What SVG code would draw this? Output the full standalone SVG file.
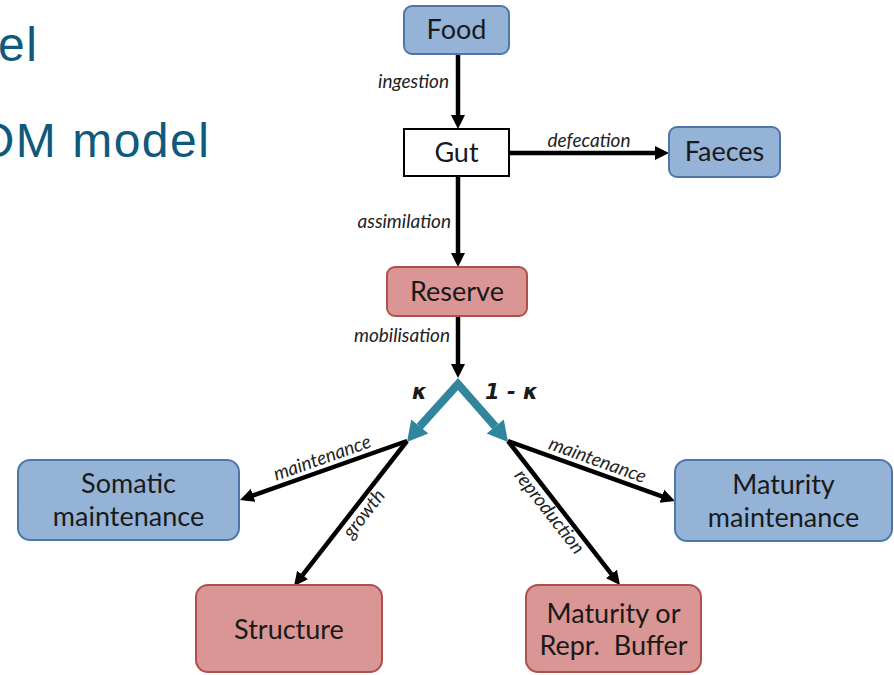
<svg xmlns="http://www.w3.org/2000/svg" width="894" height="675" viewBox="0 0 894 675">
<defs>
<style>
.title{font-family:"Liberation Sans",Arial,sans-serif;font-size:48px;fill:#0f5a7c;letter-spacing:1.5px}
.blue{fill:#95b3d7;stroke:#4f76ab;stroke-width:2}
.red{fill:#d99694;stroke:#b0504d;stroke-width:2}
.white{fill:#ffffff;stroke:#000000;stroke-width:2}
.nt{font-family:Lato,"Open Sans",sans-serif;font-size:27px;fill:#1a1a1a;text-anchor:middle}
.lb{font-family:Lato,"Open Sans",sans-serif;font-style:italic;font-size:19px;fill:#222222}
.k{font-family:"DejaVu Sans",sans-serif;font-style:italic;font-weight:bold;font-size:21px;fill:#1a1a1a}
.ar{fill:none;stroke:#000000;stroke-width:4.5}
.teal{fill:none;stroke:#31859c;stroke-width:8;stroke-linejoin:miter}
</style>
<marker id="ah" markerUnits="userSpaceOnUse" markerWidth="15" markerHeight="15" refX="9" refY="7" orient="auto">
<path d="M0,0 L14,7 L0,14 z" fill="#000000"/>
</marker>
</defs>
<text class="title" x="-2" y="61">el</text>
<text class="title" x="-23" y="157">OM model</text>

<g id="connectors">
<path class="teal" d="M419.7,426.5 L458,384 L495.3,426.5"/>
<polygon points="407,442 411.2,419.5 428.3,433.5" fill="#31859c"/>
<polygon points="508,442 503.8,419.5 486.7,433.5" fill="#31859c"/>
<line class="ar" x1="458" y1="54" x2="458" y2="124" marker-end="url(#ah)"/>
<line class="ar" x1="509" y1="153" x2="664" y2="153" marker-end="url(#ah)"/>
<line class="ar" x1="458" y1="176" x2="458" y2="262" marker-end="url(#ah)"/>
<line class="ar" x1="458" y1="316" x2="458" y2="373" marker-end="url(#ah)"/>
<line class="ar" x1="407" y1="441" x2="244.7" y2="498.3" marker-end="url(#ah)"/>
<line class="ar" x1="407" y1="441" x2="297.1" y2="582.1" marker-end="url(#ah)"/>
<line class="ar" x1="508" y1="441" x2="670.3" y2="499.3" marker-end="url(#ah)"/>
<line class="ar" x1="508" y1="441" x2="616.9" y2="581.1" marker-end="url(#ah)"/>
<text class="lb" x="449" y="88" text-anchor="end">ingestion</text>
<text class="lb" x="589" y="147" text-anchor="middle">defecation</text>
<text class="lb" x="451" y="228" text-anchor="end">assimilation</text>
<text class="lb" x="450" y="342" text-anchor="end">mobilisation</text>
<text class="k" x="412" y="399">κ</text>
<text class="k" x="485" y="399">1 - κ</text>
<text class="lb" text-anchor="middle" transform="translate(323.5,470.5) rotate(-19.5)" x="3" y="-6">maintenance</text>
<text class="lb" text-anchor="middle" transform="translate(350.5,513.5) rotate(-52.1)" x="8" y="17">growth</text>
<text class="lb" text-anchor="middle" transform="translate(591.5,471) rotate(19.76)" x="2" y="-6">maintenance</text>
<text class="lb" text-anchor="middle" transform="translate(564,513) rotate(52.1)" x="-10" y="17">reproduction</text>
</g>

<g id="food"><rect class="blue" x="404" y="6" width="105" height="48" rx="8"/><text class="nt" x="456.5" y="39">Food</text></g>
<g id="gut"><rect class="white" x="404" y="129" width="105" height="47"/><text class="nt" x="456.5" y="162">Gut</text></g>
<g id="faeces"><rect class="blue" x="669" y="127" width="111" height="50" rx="8"/><text class="nt" x="724.5" y="161">Faeces</text></g>
<g id="reserve"><rect class="red" x="387" y="267" width="140" height="49" rx="8"/><text class="nt" x="457" y="301">Reserve</text></g>
<g id="somatic"><rect class="blue" x="18" y="460" width="221" height="80" rx="12"/><text class="nt" x="128.5" y="493">Somatic</text><text class="nt" x="128.5" y="526">maintenance</text></g>
<g id="maturity-maintenance"><rect class="blue" x="675" y="460" width="217" height="81" rx="12"/><text class="nt" x="783.5" y="494">Maturity</text><text class="nt" x="783.5" y="527">maintenance</text></g>
<g id="structure"><rect class="red" x="196" y="585" width="186" height="87" rx="12"/><text class="nt" x="289" y="639">Structure</text></g>
<g id="maturity-buffer"><rect class="red" x="526" y="585" width="175" height="87" rx="12"/><text class="nt" x="613.5" y="623">Maturity or</text><text class="nt" x="613.5" y="655" xml:space="preserve">Repr.  Buffer</text></g>
</svg>
